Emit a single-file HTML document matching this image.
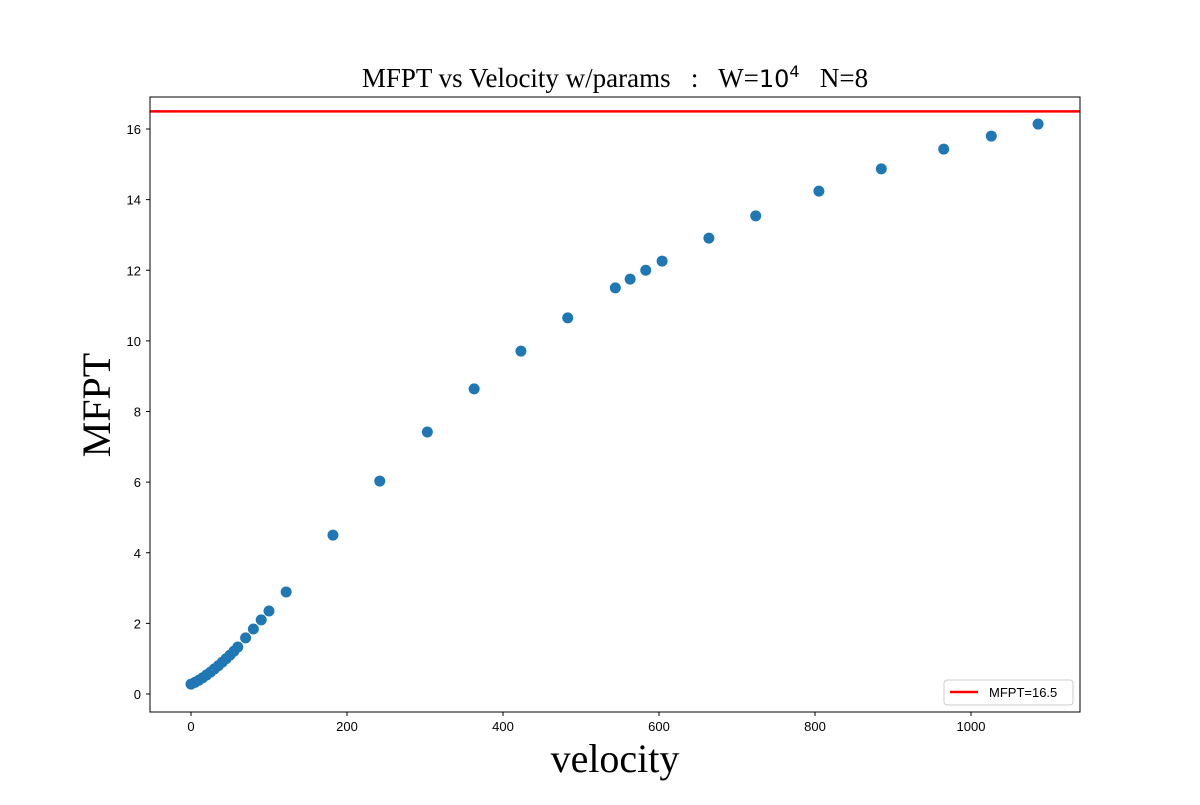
<!DOCTYPE html>
<html><head><meta charset="utf-8"><style>
body{margin:0;background:#fff;}
svg text{font-family:"Liberation Sans",sans-serif;}
</style></head><body>
<svg id="chart" width="1200" height="800">
<text x="615" y="87" text-anchor="middle" font-size="27" style="font-family:'Liberation Serif',serif;white-space:pre" xml:space="preserve">MFPT vs Velocity w/params   :   W=<tspan style="font-family:'DejaVu Sans',sans-serif" font-size="24">10</tspan><tspan style="font-family:'DejaVu Sans',sans-serif" font-size="16" dy="-10">4</tspan><tspan dy="10">   N=8</tspan></text>
<g id="xticks"></g>
<g id="yticks"></g>
<g id="marks"></g>
<line id="hline" stroke="#ff0000" stroke-width="2.5"/>
<rect x="150" y="97" width="930" height="615" fill="none" stroke="#000" stroke-width="1"/>
<text x="615" y="772" text-anchor="middle" font-size="40" style="font-family:'Liberation Serif',serif">velocity</text>
<text transform="translate(110,405) rotate(-90)" text-anchor="middle" font-size="40" style="font-family:'Liberation Serif',serif">MFPT</text>
<g>
<rect x="944" y="680" width="129" height="25" rx="3" fill="#fff" stroke="#ccc"/>
<line x1="950" y1="692" x2="978" y2="692" stroke="#ff0000" stroke-width="2.5"/>
<text x="989" y="697" font-size="13">MFPT=16.5</text>
</g>
</svg>
<script>
const velocities=[0,5,10,15,20,25,30,35,40,45,50,55,60,70,80,90,100,122,182,242,303,363,423,483,544,563,583,604,664,724,805,885,965,1026,1086];
const mfpt=[0.28,0.33,0.39,0.46,0.54,0.62,0.71,0.80,0.90,1.00,1.10,1.21,1.33,1.59,1.84,2.10,2.35,2.89,4.50,6.03,7.42,8.64,9.71,10.65,11.50,11.75,12.00,12.26,12.91,13.54,14.24,14.87,15.43,15.80,16.14];
const xTickLabels=[0,200,400,600,800,1000];
const yTickLabels=[0,2,4,6,8,10,12,14,16];
const refValue=16.5;
const NS="http://www.w3.org/2000/svg";
function xs(v){return 191+v*0.78;}
function ys(v){return 694-v*35.3125;}
const xg=document.getElementById('xticks'),yg=document.getElementById('yticks'),mg=document.getElementById('marks');
xTickLabels.forEach(t=>{
 const l=document.createElementNS(NS,'line');
 l.setAttribute('x1',xs(t));l.setAttribute('x2',xs(t));l.setAttribute('y1',712);l.setAttribute('y2',716);l.setAttribute('stroke','#000');
 
 
 xg.appendChild(l);
 const tx=document.createElementNS(NS,'text');
 tx.setAttribute('x',xs(t));tx.setAttribute('y',731);tx.setAttribute('text-anchor','middle');tx.setAttribute('font-size','13');tx.textContent=t;
 
 
 xg.appendChild(tx);
});
yTickLabels.forEach(t=>{
 const l=document.createElementNS(NS,'line');
 l.setAttribute('x1',146);l.setAttribute('x2',150);l.setAttribute('y1',ys(t));l.setAttribute('y2',ys(t));l.setAttribute('stroke','#000');
 
 
 yg.appendChild(l);
 const tx=document.createElementNS(NS,'text');
 tx.setAttribute('x',141);tx.setAttribute('y',ys(t)+5);tx.setAttribute('text-anchor','end');tx.setAttribute('font-size','13');tx.textContent=t;
 
 
 yg.appendChild(tx);
});
velocities.forEach((v,i)=>{
 const c=document.createElementNS(NS,'circle');
 c.setAttribute('cx',xs(v));c.setAttribute('cy',ys(mfpt[i]));c.setAttribute('r',5.5);c.setAttribute('fill','#1f77b4');
 
 
 mg.appendChild(c);
});
const h=document.getElementById('hline');
h.setAttribute('x1',150);h.setAttribute('x2',1080);h.setAttribute('y1',ys(refValue));h.setAttribute('y2',ys(refValue));
</script>
</body></html>
